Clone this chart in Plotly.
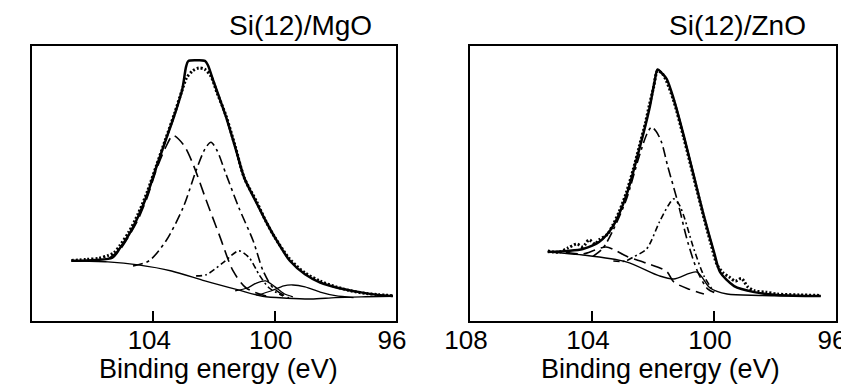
import plotly.graph_objects as go

# ---------------- Left panel: Si(12)/MgO ----------------
mgo_exp_e = [106.7, 106.2, 105.8, 105.5, 105.3, 105.1, 104.8, 104.5, 104.2, 103.9, 103.6, 103.3,
             103.05, 102.9, 102.7, 102.5, 102.3, 102.1, 101.9, 101.6, 101.3, 101.0, 100.6, 100.3,
             100.0, 99.5, 99.0, 98.5, 98.0, 97.5, 97.0, 96.6, 96.1]
mgo_exp_y = [22.0, 22.4, 22.8, 23.8, 24.8, 27.5, 32.5, 39.0, 47.0, 56.5, 66.0, 75.5,
             84.0, 88.5, 91.0, 92.0, 91.5, 89.0, 83.0, 74.5, 63.5, 52.0, 43.5, 36.5,
             30.5, 22.5, 17.5, 14.5, 12.5, 11.0, 10.0, 9.6, 9.2]

mgo_fit_e = [106.7, 105.9, 105.35, 105.1, 104.8, 104.5, 104.2, 103.9, 103.6, 103.3, 103.05,
             102.92, 102.85, 102.6, 102.3, 102.2, 102.03, 101.83, 101.6, 101.27, 101.0, 100.6,
             100.3, 100.0, 99.5, 99.0, 98.5, 97.9, 97.2, 96.6, 96.1]
mgo_fit_y = [21.9, 22.2, 23.0, 26.5, 31.5, 38.0, 46.0, 56.0, 65.5, 75.0, 84.0,
             92.5, 94.5, 94.8, 94.6, 93.0, 87.6, 81.4, 74.1, 62.0, 52.0, 43.0,
             36.5, 30.5, 21.9, 17.0, 14.0, 12.0, 10.5, 9.5, 9.1]

mgo_bg_e = [106.7, 105.5, 104.5, 103.4, 102.3, 101.2, 100.4, 99.6, 98.8, 98.0, 97.0, 96.1]
mgo_bg_y = [21.9, 21.5, 20.4, 18.2, 14.6, 11.3, 9.0, 8.3, 8.0, 8.5, 8.8, 9.0]

mgo_a_e = [105.5, 105.1, 104.8, 104.5, 104.2, 103.9, 103.6, 103.35, 103.0, 102.69, 102.26,
           101.83, 101.37, 100.94, 100.28]
mgo_a_y = [22.5, 26.0, 31.0, 37.0, 45.0, 55.0, 63.0, 67.5, 64.0, 57.0, 44.0,
           31.4, 18.2, 12.0, 9.1]

mgo_b_e = [104.67, 104.14, 103.58, 103.02, 102.59, 102.3, 102.1, 101.9, 101.6, 101.18,
           100.71, 100.38, 100.05, 99.53]
mgo_b_y = [20.0, 21.9, 29.2, 41.2, 54.7, 62.5, 65.0, 62.0, 53.3, 41.2, 29.2, 18.2, 12.0, 8.4]

mgo_c_e = [102.59, 102.26, 101.7, 101.18, 100.84, 100.51, 100.18, 99.72]
mgo_c_y = [16.4, 16.8, 21.2, 25.5, 23.0, 16.8, 12.0, 9.1]

mgo_d_e = [101.3, 100.9, 100.6, 100.3, 100.0, 99.7, 99.4]
mgo_d_y = [11.0, 12.0, 13.8, 14.6, 12.5, 10.0, 8.8]

mgo_f_e = [100.6, 100.1, 99.7, 99.4, 99.0, 98.5, 98.0, 97.4]
mgo_f_y = [9.3, 11.0, 12.8, 13.1, 12.4, 10.5, 9.2, 8.5]

# ---------------- Right panel: Si(12)/ZnO ----------------
zno_exp_e = [105.45, 105.1, 104.8, 104.5, 104.3, 104.1, 103.9, 103.77, 103.5, 103.31, 103.1,
             102.88, 102.65, 102.45, 102.25, 102.12, 101.98, 101.85, 101.7, 101.55, 101.32,
             100.99, 100.66, 100.33, 100.1, 99.9, 99.7, 99.5, 99.3, 99.1, 98.9, 98.68, 98.3,
             97.92, 97.2, 96.5]
zno_exp_y = [25.5, 25.0, 26.5, 28.0, 27.0, 29.5, 28.0, 29.5, 31.5, 35.0, 40.0,
             46.5, 55.0, 63.5, 72.0, 78.5, 85.0, 91.0, 90.0, 87.0, 80.0,
             66.5, 52.0, 37.5, 28.0, 20.5, 17.5, 16.0, 14.5, 15.5, 12.5, 11.0, 10.5,
             9.8, 9.5, 9.3]

zno_fit_e = [105.45, 104.8, 104.3, 103.77, 103.31, 102.88, 102.45, 102.12, 101.95, 101.85,
             101.7, 101.55, 101.32, 100.99, 100.66, 100.33, 100.0, 99.8, 99.34, 98.68, 97.92, 96.5]
zno_fit_y = [25.1, 25.5, 26.2, 28.7, 34.5, 45.5, 62.5, 77.1, 87.0, 91.5,
             90.0, 88.0, 80.7, 67.3, 52.7, 38.2, 25.1, 17.8, 12.7, 10.5, 9.5, 9.1]

zno_bg_e = [105.45, 104.3, 102.88, 101.79, 101.32, 100.56, 100.13, 99.57, 98.5, 96.5]
zno_bg_y = [25.1, 24.0, 21.5, 16.4, 15.3, 17.8, 12.0, 9.8, 9.3, 9.1]

zno_a_e = [103.97, 103.64, 103.31, 102.88, 102.45, 102.2, 102.05, 101.9, 101.72, 101.52,
           101.19, 100.86, 100.53, 100.2, 99.87]
zno_a_y = [23.5, 26.5, 33.0, 44.0, 60.0, 68.0, 70.5, 69.0, 65.0, 56.4, 43.3, 28.7, 17.8, 11.6, 9.8]

zno_b_e = [103.3, 102.9, 102.64, 102.21, 101.79, 101.5, 101.32, 101.15, 100.99, 100.66,
           100.33, 100.0]
zno_b_y = [21.8, 21.8, 23.3, 26.2, 36.0, 42.0, 44.4, 42.5, 38.2, 26.2, 16.4, 10.5]

zno_c_e = [104.86, 104.3, 103.9, 103.54, 103.2, 102.88, 102.21, 101.55, 101.32, 100.8, 100.33]
zno_c_y = [25.0, 24.4, 25.8, 26.9, 25.5, 23.6, 21.0, 18.0, 14.2, 11.5, 9.8]

tick_vals = [108, 104, 100, 96]
panel_titles = ["Si(12)/MgO", "Si(12)/ZnO"]
axis_title = "Binding energy (eV)"

FONT = "Liberation Sans, Arial, Helvetica, sans-serif"
W, H = 849, 388


def px_x(v):
    return v / W


def px_y(v):
    return 1 - v / H


fig = go.Figure()


def add(x, y, xa, ya, width=1.5, dash="solid"):
    fig.add_trace(go.Scatter(x=x, y=y, xaxis=xa, yaxis=ya, mode="lines",
                             line=dict(color="black", width=width, dash=dash, shape="spline",
                                       smoothing=0.8),
                             hoverinfo="skip", showlegend=False))


DOT = "2px,2px"
LONGDASH = "12px,6px"
DASHDOT = "10px,4px,3px,4px"
SHORTDASHDOT = "6px,3px,2px,3px"

# left
add(mgo_bg_e, mgo_bg_y, "x", "y", 1.4)
add(mgo_a_e, mgo_a_y, "x", "y", 1.6, LONGDASH)
add(mgo_b_e, mgo_b_y, "x", "y", 1.6, DASHDOT)
add(mgo_c_e, mgo_c_y, "x", "y", 1.6, SHORTDASHDOT)
add(mgo_d_e, mgo_d_y, "x", "y", 1.3)
add(mgo_f_e, mgo_f_y, "x", "y", 1.3)
add(mgo_exp_e, mgo_exp_y, "x", "y", 3, DOT)
add(mgo_fit_e, mgo_fit_y, "x", "y", 2.5)

# right
add(zno_bg_e, zno_bg_y, "x2", "y2", 1.4)
add(zno_c_e, zno_c_y, "x2", "y2", 1.6, LONGDASH)
add(zno_a_e, zno_a_y, "x2", "y2", 1.6, DASHDOT)
add(zno_b_e, zno_b_y, "x2", "y2", 1.6, SHORTDASHDOT)
add(zno_exp_e, zno_exp_y, "x2", "y2", 3, DOT)
add(zno_fit_e, zno_fit_y, "x2", "y2", 2.5)

y_dom = [px_y(313), px_y(38)]


def xaxis(dom):
    return dict(domain=dom, range=[108, 96], showline=True, mirror=True, linecolor="black",
                linewidth=2, ticks="inside", ticklen=10, tickwidth=1.5, tickcolor="black",
                tickvals=tick_vals, tickfont=dict(family=FONT, size=26, color="black"),
                ticklabelstandoff=-5, ticklabelshift=4, automargin=False,
                showgrid=False, zeroline=False)


def yaxis(anchor):
    return dict(domain=y_dom, range=[0, 100], showline=True, mirror=True, linecolor="black",
                linewidth=2, ticks="", showticklabels=False, showgrid=False, zeroline=False,
                anchor=anchor, automargin=False)


def label(text, x, y, xanchor, size=27):
    return dict(text=text, xref="paper", yref="paper", x=x, y=y, xanchor=xanchor,
                yanchor="top", showarrow=False,
                font=dict(family=FONT, size=size, color="black"))


fig.update_layout(
    width=W, height=H,
    margin=dict(l=0, r=0, t=0, b=0, autoexpand=False),
    paper_bgcolor="white", plot_bgcolor="white",
    xaxis=dict(**xaxis([px_x(24), px_x(388)]), anchor="y"),
    yaxis=yaxis("x"),
    xaxis2=dict(**xaxis([px_x(462), px_x(828)]), anchor="y2"),
    yaxis2=yaxis("x2"),
    showlegend=False,
    annotations=[
        label(panel_titles[0], px_x(366), 1.0, "right", 28),
        label(panel_titles[1], px_x(800), 1.0, "right", 28),
        label(axis_title, px_x(210), px_y(344), "center"),
        label(axis_title, px_x(652), px_y(344), "center"),
    ],
)

fig.write_html("out.html")
